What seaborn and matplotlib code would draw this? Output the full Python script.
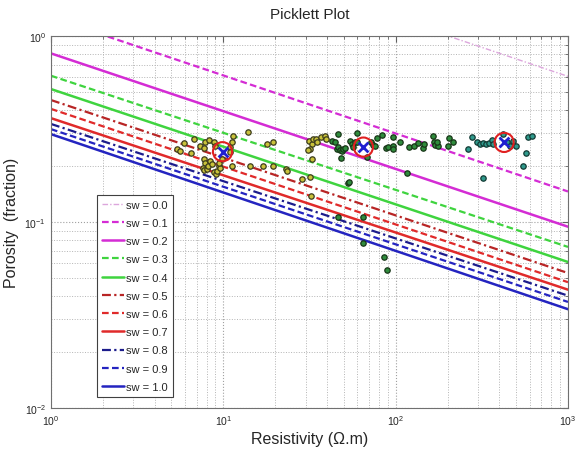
import numpy as np
import pandas as pd
import matplotlib
matplotlib.use("Agg")
import matplotlib.pyplot as plt
import seaborn as sns

# ---- Saturation lines (porosity at Rt = 1 and Rt = 1000 ohm.m) ----
sw_labels = ["0.0", "0.1", "0.2", "0.3", "0.4", "0.5", "0.6", "0.7", "0.8", "0.9", "1.0"]
phi_at_r1 = [5.25, 1.26, 0.807, 0.612, 0.519, 0.453, 0.406, 0.362, 0.337, 0.316, 0.297]
phi_at_r1000 = [0.607, 0.146, 0.0944, 0.0735, 0.061, 0.0532, 0.0475, 0.0433, 0.0402, 0.0372, 0.034]
r_ends = [1.0, 1000.0]

# ---- Data points: low-resistivity (yellow) group ----
yel_r = [5.4, 5.6, 5.9, 6.5, 6.8, 7.3, 7.7, 7.8, 8.3, 8.8, 8.9, 7.7, 7.8, 7.6, 7.7, 8.0, 8.2,
         8.4, 8.6, 8.8, 9.1, 9.2, 9.4, 9.6, 9.5, 9.8, 10.9, 11.2, 11.4, 10.9, 11.2, 14.0, 14.3,
         17.1, 17.9, 19.5, 19.5, 23.1, 23.3, 28.5, 31.8, 32.3, 31.3, 32.5, 31.8, 31.0, 32.5,
         33.0, 34.3, 34.8, 36.9, 38.9, 39.3]
yel_phi = [0.247, 0.240, 0.266, 0.234, 0.279, 0.258, 0.250, 0.268, 0.275, 0.268, 0.258, 0.218,
           0.209, 0.196, 0.190, 0.193, 0.201, 0.214, 0.205, 0.185, 0.182, 0.189, 0.201, 0.195,
           0.209, 0.218, 0.252, 0.268, 0.291, 0.237, 0.200, 0.305, 0.200, 0.200, 0.263, 0.268,
           0.199, 0.194, 0.188, 0.170, 0.175, 0.138, 0.272, 0.264, 0.247, 0.243, 0.218, 0.281,
           0.278, 0.268, 0.285, 0.290, 0.279]

# ---- middle (green) group ----
grn_r = [42.6, 44.5, 46.5, 45.5, 46.3, 47.6, 48.6, 49.7, 50.8, 48.0, 53.1, 46.1,
         59.5, 54.4, 55.6, 58.1, 56.9, 59.9, 68.0, 71.7, 73.6, 75.9, 77.6, 83.0, 87.9, 89.9,
         97.0, 96.1, 97.0, 106, 119, 127, 135, 145, 146, 164, 166, 169, 175, 173, 205, 214,
         202, 117, 53.7, 65.0, 65.0, 86.0, 89.5]
grn_phi = [0.272, 0.268, 0.297, 0.247, 0.252, 0.243, 0.240, 0.247, 0.250, 0.221, 0.163, 0.107,
           0.301, 0.272, 0.263, 0.268, 0.252, 0.268, 0.223, 0.270, 0.259, 0.255, 0.282, 0.294,
           0.249, 0.252, 0.257, 0.247, 0.285, 0.268, 0.252, 0.257, 0.265, 0.249, 0.263, 0.291,
           0.268, 0.259, 0.255, 0.268, 0.282, 0.268, 0.255, 0.183, 0.165, 0.107, 0.077, 0.065,
           0.055]

# ---- high-resistivity (teal) group ----
tel_r = [279, 296, 309, 320, 335, 350, 361, 366, 264, 323, 419, 442, 461, 482, 500, 589, 621,
         569, 547]
tel_phi = [0.288, 0.268, 0.263, 0.266, 0.263, 0.266, 0.277, 0.263, 0.247, 0.172, 0.297, 0.268,
           0.255, 0.272, 0.255, 0.285, 0.289, 0.234, 0.201]

# ---- cluster centres ----
ctr_r = [9.9, 65.0, 426]
ctr_phi = [0.239, 0.253, 0.268]

sns.set_style("white")
plt.rcParams["font.family"] = ["Liberation Sans", "DejaVu Sans"]

fig = plt.figure(figsize=(5.79, 4.52), dpi=100)
ax = fig.add_axes([0.088, 0.095, 0.893, 0.823])

colors = ["#dca6dc", "#d42cd4", "#d42cd4", "#3fd43f", "#3fd43f", "#b82525", "#e02a2a",
          "#e02a2a", "#1c1c8c", "#2424c0", "#2424c0"]
styles = [(0, (4, 1.5, 1, 1.5)), (0, (3, 1.5)), "-", (0, (3, 1.5)), "-",
          (0, (4, 1.5, 1, 1.5)), (0, (3, 1.5)), "-", (0, (4, 1.5, 1, 1.5)), (0, (3, 1.5)), "-"]
widths = [1.0, 1.6, 1.8, 1.6, 1.8, 1.6, 1.6, 1.8, 1.6, 1.6, 1.8]

for lab, p1, p2, c, ls, lw in zip(sw_labels, phi_at_r1, phi_at_r1000, colors, styles, widths):
    sns.lineplot(x=r_ends, y=[p1, p2], ax=ax, color=c, linestyle=ls, linewidth=lw,
                 label=f"sw = {lab}")

sns.scatterplot(x=yel_r, y=yel_phi, ax=ax, color="#c9c23a", edgecolor="#3c3c1c",
                linewidth=0.9, s=15, legend=False, zorder=3)
sns.scatterplot(x=grn_r, y=grn_phi, ax=ax, color="#2f8c3c", edgecolor="#173517",
                linewidth=0.9, s=15, legend=False, zorder=3)
sns.scatterplot(x=tel_r, y=tel_phi, ax=ax, color="#2f9a8c", edgecolor="#123a34",
                linewidth=0.9, s=15, legend=False, zorder=3)
sns.scatterplot(x=ctr_r, y=ctr_phi, ax=ax, marker="o", s=190, facecolor="none",
                edgecolor="#e02020", linewidth=1.5, legend=False, zorder=4)
sns.scatterplot(x=ctr_r, y=ctr_phi, ax=ax, marker="x", s=50, color="#2020d0",
                linewidth=2.0, legend=False, zorder=5)

ax.set_xscale("log")
ax.set_yscale("log")
ax.set_xlim(1, 1000)
ax.set_ylim(0.01, 1)

ax.grid(True, which="major", linestyle=":", color="#a0a0a0", linewidth=0.8)
ax.grid(True, which="minor", linestyle=":", color="#b4b4b4", linewidth=0.7)
ax.tick_params(which="both", direction="in", top=True, right=True, labelsize=7.5,
               color="#606060")
ax.tick_params(which="major", length=4)
ax.tick_params(which="minor", length=2.5)
for sp in ax.spines.values():
    sp.set_color("#707070")
    sp.set_linewidth(0.8)

ax.set_title("Picklett Plot", fontsize=11, pad=13)
ax.set_xlabel("Resistivity (\u03a9.m)", fontsize=11.5, labelpad=3)
ax.set_ylabel("Porosity  (fraction)", fontsize=11.5, labelpad=4)

leg = ax.legend(loc="lower left", bbox_to_anchor=(0.089, 0.03), borderaxespad=0,
                fontsize=8, handlelength=2.0, handletextpad=0.2, labelspacing=0.74,
                borderpad=0.45, fancybox=False, framealpha=1, edgecolor="#404040")
leg.get_frame().set_linewidth(0.8)

fig.savefig("out.png", dpi=100)
